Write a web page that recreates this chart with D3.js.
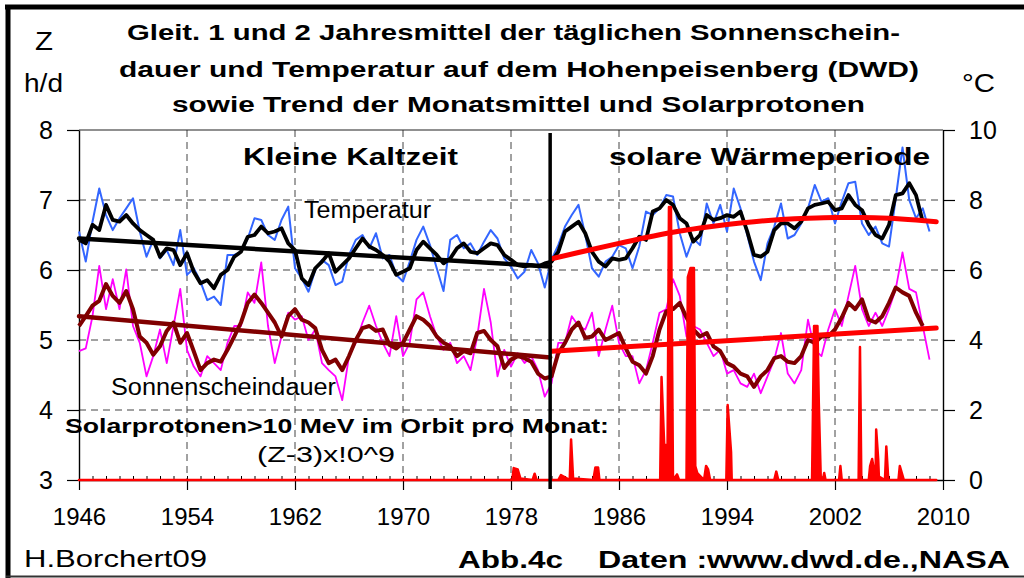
<!DOCTYPE html>
<html>
<head>
<meta charset="utf-8">
<script src="https://cdn.jsdelivr.net/npm/d3@7"></script>
<style>
body{margin:0;background:#fff;}
svg{display:block;font-family:"Liberation Sans", Arial, sans-serif;}
</style>
</head>
<body>
<svg id="chart" width="1024" height="578"></svg>
<script>
// half-year samples, first value is 1946.0
var firstYear = 1946, stepYears = 0.5;

// temperature in °C, 1-year running mean (blue)
var tempMean1 = [7.1,6.24, 7.38,8.33, 7.57,7.14, 7.48,7.76, 8.05,7.1, 6.38,6.86, 6.33,6.57, 6.14,7.14,
    5.86,6.05, 5.67,5.14, 5.24,5.0, 6.43,6.43, 6.52,6.9, 7.48,7.43, 7.0,6.86, 7.43,7.81,
    6.05,5.76, 5.38,6.0, 6.29,6.14, 5.57,5.67, 6.43,6.86, 7.0,6.62, 7.05,6.33, 6.43,5.86,
    5.67,6.24, 6.86,7.24, 6.71,6.05, 5.4,6.86, 7.0,6.62, 6.76,6.43, 6.81,7.14, 6.9,6.33,
    6.1,5.76, 5.95,6.57, 6.19,5.5, 6.3,6.71, 7.24,7.57, 7.86,7.0, 6.05,5.81, 6.24,6.38,
    6.71,6.62, 6.05,6.67, 7.67,7.57, 7.76,8.14, 8.1,7.05, 6.38,6.9, 6.71,7.9, 7.33,7.86,
    7.1,8.33, 7.76,7.0, 6.24,5.71, 6.76,7.24, 7.9,6.9, 7.0,7.33, 7.76,8.43, 7.95,8.05,
    7.33,7.95, 8.48,8.52, 7.33,7.0, 7.24,6.76, 6.67,8.05, 9.5,8.0, 7.48,7.76, 7.1];
// temperature in °C, 2-year running mean (black)
var tempMean2 = [6.86,6.76, 7.29,7.14, 7.86,7.43, 7.38,7.57, 7.33,7.14, 7.0,6.86, 6.38,6.62, 6.57,6.14,
    6.48,5.95, 5.62,5.71, 5.48,5.86, 6.0,6.38, 6.52,6.95, 7.0,7.24, 7.05,7.1, 7.19,6.76,
    6.57,5.76, 5.57,6.05, 6.24,6.48, 5.95,6.14, 6.33,6.62, 6.9,6.67, 6.57,6.43, 6.24,5.86,
    5.95,6.05, 6.57,6.81, 6.62,6.43, 6.19,6.33, 6.62,6.76, 6.52,6.48, 6.62,6.76, 6.71,6.43,
    6.29,6.14, 6.1,6.14, 6.1,6.19, 6.24,6.52, 7.1,7.24, 7.38,7.05, 6.52,6.24, 6.1,6.33,
    6.29,6.33, 6.62,6.95, 6.86,7.67, 7.76,8.0, 7.86,7.48, 7.33,6.81, 7.0,7.57, 7.43,7.48,
    7.57,7.52, 7.67,7.1, 6.43,6.38, 6.52,7.14, 7.33,7.33, 7.19,7.38, 7.76,7.86, 7.9,7.95,
    7.71,7.76, 8.14,7.86, 7.71,7.29, 7.0,6.9, 7.29,8.14, 8.19,8.48, 8.14,7.38];
// sunshine h/d, 1-year running mean (magenta)
var sunMean1 = [4.84,4.88, 5.34,6.06, 5.44,5.87, 5.44,6.01, 5.2,4.96, 4.48,4.77, 5.15,4.67, 5.2,5.73,
    4.86,4.62, 4.48,4.77, 4.67,4.57, 4.96,5.2, 5.2,5.68, 5.53,6.11, 5.2,4.67, 5.05,5.39,
    5.29,5.34, 5.0,5.15, 4.67,4.57, 4.48,4.14, 4.77,4.96, 5.25,5.49, 5.2,4.96, 4.77,5.34,
    4.77,4.96, 5.58,5.68, 5.34,5.05, 4.86,4.96, 4.67,4.77, 4.57,5.05, 5.73,5.25, 4.48,4.86,
    4.62,4.81, 4.67,4.77, 4.57,4.19, 4.38,4.96, 4.96,5.34, 5.2,5.15, 5.39,4.77, 5.15,5.49,
    4.96,4.77, 4.77,4.38, 4.57,4.96, 5.39,5.44, 5.87,5.63, 5.05,5.2, 5.15,4.96, 4.77,4.86,
    4.52,4.57, 4.38,4.33, 4.52,4.24, 4.48,4.72, 5.1,4.52, 4.38,4.57, 5.29,4.86, 4.77,5.15,
    5.44,5.2, 5.63,6.06, 5.44,5.2, 5.39,5.2, 5.44,5.73, 6.25,5.73, 5.68,5.2, 4.72];
// sunshine h/d, 2-year running mean (dark red)
var sunMean2 = [5.2,5.34, 5.49,5.56, 5.8,5.63, 5.53,5.7, 5.44,5.05, 4.96,4.79, 4.91,5.13, 5.25,4.96,
    5.1,4.84, 4.57,4.67, 4.72,4.69, 4.86,5.05, 5.25,5.53, 5.65,5.53, 5.39,5.25, 5.05,5.34,
    5.44,5.29, 5.25,5.17, 4.86,4.67, 4.72,4.57, 4.77,5.0, 5.17,5.2, 5.13,5.15, 4.93,4.88,
    4.96,5.15, 5.34,5.29, 5.2,5.05, 4.96,4.91, 4.77,4.84, 4.81,5.1, 5.13,5.0, 4.91,4.6,
    4.72,4.77, 4.74,4.69, 4.52,4.45, 4.48,4.81, 4.96,5.15, 5.25,5.03, 5.05,5.15, 5.0,5.05,
    5.1,4.88, 4.69,4.64, 4.52,4.77, 5.15,5.41, 5.44,5.53, 5.32,5.15, 5.05,5.1, 4.91,4.84,
    4.67,4.62, 4.52,4.48, 4.33,4.48, 4.57,4.74, 4.77,4.69, 4.67,4.77, 5.0,4.96, 5.05,5.05,
    5.15,5.32, 5.53,5.44, 5.58,5.29, 5.25,5.34, 5.53,5.75, 5.68,5.63, 5.39,5.2];

// trends
var splitYear = 1980.9;
var coldTrendYears = [1946, 1980.9];
var tempColdTrend = [6.9, 6.1];
var sunColdTrend = [5.34, 4.75];
var warmTempYears = [1981, 1983, 1986, 1988, 1990, 1992, 1994, 1996, 1998, 2000, 2002, 2004, 2006, 2008, 2009.5];
var tempWarmTrend = [6.32, 6.5, 6.76, 6.93, 7.08, 7.2, 7.3, 7.38, 7.44, 7.48, 7.5, 7.5, 7.48, 7.43, 7.38];
var warmSunYears = [1981, 2009.5];
var sunWarmTrend = [4.84, 5.17];

// solar protons >10 MeV per month, (Z-3) x 10^9
var protonYears = [1946,1978.1,1978.2,1978.5,1978.7,1979.6,1979.75,1979.9,1981.5,1981.7,1981.9,1982.35,1982.45,1982.6,
    1984.1,1984.25,1984.45,1984.55,1989.05,1989.15,1989.35,1989.6,1989.7,1989.85,1990.0,1990.3,1990.45,1991.0,1991.1,
    1991.3,1991.55,1991.65,1991.8,1992.3,1992.45,1992.6,1992.75,1993.95,1994.05,1994.3,1994.35,1997.5,1997.65,1997.8,
    2000.3,2000.45,2000.7,2000.8,2000.95,2001.1,2001.2,2001.3,2002.3,2002.4,2002.5,2003.75,2003.85,2003.95,2004.5,
    2004.6,2004.75,2005.0,2005.05,2005.2,2005.25,2005.7,2005.8,2005.95,2006.7,2006.8,2006.95,2007.1,2009.5];
var protonValues = [0,0,0.17,0.15,0.02,0,0.09,0,0,0.07,0.05,0,0.58,0.02,
    0,0.18,0.18,0,0,1.47,0.5,0.5,3.9,3.9,0,0.08,0,0,2.9,
    3.03,3.03,0.2,0.1,0,0.2,0.15,0,0,1.07,0.4,0,0,0.12,0,
    0,2.2,2.2,1.1,0,0,0.1,0,0,0.2,0,0,1.9,0,0,
    0.2,0.3,0,0.72,0.3,0.05,0,0.48,0,0,0.2,0.1,0,0];

var yearTicks = [1946, 1954, 1962, 1970, 1978, 1986, 1994, 2002, 2010];
var sunTicks = [3, 4, 5, 6, 7, 8];
var tempTicks = [0, 2, 4, 6, 8, 10];

var svg = d3.select("#chart");
var x = d3.scaleLinear().domain([1946, 2010]).range([79, 943]);
var ySun = d3.scaleLinear().domain([3, 8]).range([480, 130]);
var yTemp = d3.scaleLinear().domain([0, 10]).range([480, 130]);

function yearOf(i){ return firstYear + i*stepYears; }

// outer frame
svg.append("line").attr("x1", 5).attr("x2", 1024).attr("y1", 7).attr("y2", 7)
    .attr("stroke", "#000").attr("stroke-width", 5);
svg.append("line").attr("x1", 8).attr("x2", 8).attr("y1", 5).attr("y2", 578)
    .attr("stroke", "#000").attr("stroke-width", 5);
svg.append("line").attr("x1", 6).attr("x2", 1024).attr("y1", 576.5).attr("y2", 576.5)
    .attr("stroke", "#333").attr("stroke-width", 2);

// grid
var grid = svg.append("g").attr("stroke", "#444").attr("stroke-width", 1).attr("stroke-dasharray", "7,5");
grid.selectAll(".h").data([4, 5, 6, 7]).enter().append("line")
    .attr("x1", x(1946)).attr("x2", x(2010))
    .attr("y1", function(d){ return ySun(d); }).attr("y2", function(d){ return ySun(d); });
grid.selectAll(".v").data(yearTicks.slice(1, -1)).enter().append("line")
    .attr("y1", ySun(8)).attr("y2", ySun(3))
    .attr("x1", function(d){ return x(d); }).attr("x2", function(d){ return x(d); });
svg.append("line").attr("x1", x(1946)).attr("x2", x(2010)).attr("y1", ySun(8)).attr("y2", ySun(8))
    .attr("stroke", "#222").attr("stroke-width", 1.2);

// axes
function styleAxis(g, size){
    g.attr("font-family", null).attr("font-size", size);
    g.selectAll("text").attr("fill", "#000");
    g.selectAll("line").attr("stroke", "#000").attr("stroke-width", 1.2);
    g.select(".domain").attr("stroke", "#000").attr("stroke-width", 1.4);
}
svg.append("g").attr("transform", "translate(" + x(1946) + ",0)")
    .call(d3.axisLeft(ySun).tickValues(sunTicks).tickSize(12).tickSizeOuter(0).tickPadding(14).tickFormat(d3.format("d")))
    .call(styleAxis, 25);
svg.append("g").attr("transform", "translate(" + x(2010) + ",0)")
    .call(d3.axisRight(yTemp).tickValues(tempTicks).tickSize(12).tickSizeOuter(0).tickPadding(14).tickFormat(d3.format("d")))
    .call(styleAxis, 25);
svg.append("g").attr("transform", "translate(0," + ySun(3) + ")")
    .call(d3.axisBottom(x).tickValues(yearTicks).tickSize(10).tickSizeOuter(0).tickPadding(18).tickFormat(d3.format("d")))
    .call(styleAxis, 24);
var minor = svg.append("g").attr("transform", "translate(0," + ySun(3) + ")")
    .call(d3.axisBottom(x).tickValues(d3.range(1947, 2010)).tickSize(-4).tickFormat(""));
minor.select(".domain").remove();
minor.selectAll("line").attr("stroke", "#000");

// running means
function drawSeries(values, yScale, color, width){
    var line = d3.line()
        .x(function(d, i){ return x(yearOf(i)); })
        .y(function(d){ return yScale(d); });
    svg.append("path").datum(values)
        .attr("d", line).attr("fill", "none")
        .attr("stroke", color).attr("stroke-width", width)
        .attr("stroke-linejoin", "round");
}
function drawTrend(years, values, yScale, color, width){
    var line = d3.line()
        .x(function(d){ return x(d); })
        .y(function(d, i){ return yScale(values[i]); })
        .curve(d3.curveMonotoneX);
    svg.append("path").datum(years)
        .attr("d", line).attr("fill", "none")
        .attr("stroke", color).attr("stroke-width", width)
        .attr("stroke-linecap", "round");
}
drawSeries(tempMean1, yTemp, "#3366ff", 2);
drawSeries(sunMean1, ySun, "#ff00ff", 1.8);
drawSeries(tempMean2, yTemp, "#000", 3.8);
drawSeries(sunMean2, ySun, "#800000", 4);
drawTrend(coldTrendYears, tempColdTrend, yTemp, "#000", 4.5);
drawTrend(coldTrendYears, sunColdTrend, ySun, "#800000", 4.5);
drawTrend(warmTempYears, tempWarmTrend, yTemp, "#ff0000", 5);
drawTrend(warmSunYears, sunWarmTrend, ySun, "#ff0000", 5);

// solar protons on the Z axis (Z = 3 + value)
var protonArea = d3.area()
    .x(function(d){ return x(d); })
    .y0(ySun(3))
    .y1(function(d, i){ return ySun(3 + protonValues[i]); });
svg.append("path").datum(protonYears)
    .attr("d", protonArea).attr("fill", "#ff0000")
    .attr("stroke", "#ff0000").attr("stroke-width", 2.5).attr("stroke-linejoin", "round");

// split between the two periods
svg.append("line").attr("x1", x(splitYear)).attr("x2", x(splitYear))
    .attr("y1", ySun(8) + 3).attr("y2", ySun(3) + 9)
    .attr("stroke", "#000").attr("stroke-width", 3.5);

// texts
function addText(str, xPos, yPos, size, bold, width){
    var t = svg.append("text").attr("x", xPos).attr("y", yPos)
        .attr("font-size", size).attr("font-weight", bold ? "bold" : "normal")
        .attr("fill", "#000").text(str);
    if(width){
        t.attr("textLength", width).attr("lengthAdjust", "spacingAndGlyphs");
    }
    return t;
}
addText("Gleit. 1 und 2 Jahresmittel der täglichen Sonnenschein-", 127, 40, 22, true, 773);
addText("dauer und Temperatur auf dem Hohenpeisenberg (DWD)", 119, 77, 22, true, 800);
addText("sowie Trend der Monatsmittel und Solarprotonen", 172, 112, 22, true, 693);
addText("Z", 35, 50, 25, false, 18);
addText("h/d", 24, 92, 25, false, 39);
addText("°C", 962, 92, 25, false, 33);
addText("Kleine Kaltzeit", 243, 165, 24, true, 215);
addText("solare Wärmeperiode", 609, 165, 24, true, 321);
addText("Temperatur", 304, 218, 23, false, 127);
addText("Sonnenscheindauer", 111, 395, 23, false, 225);
addText("Solarprotonen>10 MeV im Orbit pro Monat:", 65, 433, 20, true, 544);
addText("(Z-3)x!0^9", 257, 462, 22, false, 138);
addText("H.Borchert09", 24, 567, 24, false, 183);
addText("Abb.4c", 458, 568, 24, true, 105);
addText("Daten :www.dwd.de.,NASA", 598, 568, 24, true, 412);
</script>
</body>
</html>
